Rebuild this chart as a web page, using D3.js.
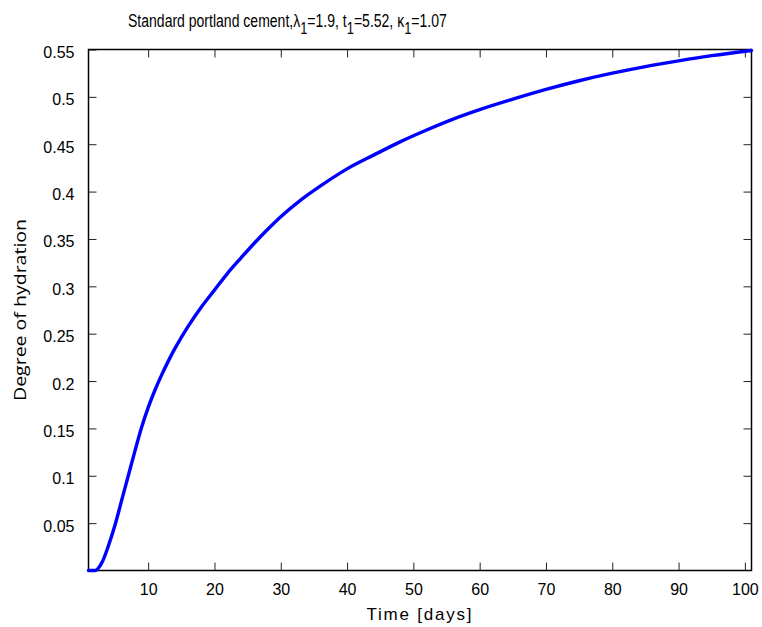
<!DOCTYPE html>
<html>
<head>
<meta charset="utf-8">
<script src="https://cdn.jsdelivr.net/npm/d3@7/dist/d3.min.js"></script>
<style>
  html, body { margin: 0; padding: 0; background: #fff; }
  svg { display: block; }
  .tick text { font-family: "Liberation Sans", Arial, sans-serif; font-size: 16px; fill: #000; }
</style>
</head>
<body>
<svg id="chart" width="762" height="627"></svg>
<script>
// ---- data ----
const timeDays = [1, 2, 3, 4, 5, 6, 7, 8, 9, 10, 11, 12, 13, 14, 15, 16, 18, 20, 22, 24, 26, 28, 30, 33, 36, 40, 44, 48, 52, 56, 60, 65, 70, 75, 80, 85, 90, 95, 101];
const hydration = [0, 0, 0.008, 0.026, 0.048, 0.074, 0.1, 0.126, 0.151, 0.172, 0.19, 0.206, 0.2205, 0.234, 0.246, 0.2575, 0.278, 0.296, 0.314, 0.330, 0.3455, 0.36, 0.3735, 0.391, 0.406, 0.424, 0.4385, 0.4525, 0.465, 0.4765, 0.4865, 0.4975, 0.5078, 0.517, 0.525, 0.532, 0.538, 0.5435, 0.549];
const xTicks = [10, 20, 30, 40, 50, 60, 70, 80, 90, 100];
const yTicks = [0.05, 0.1, 0.15, 0.2, 0.25, 0.3, 0.35, 0.4, 0.45, 0.5, 0.55];
const titleParts = [["Standard portland cement,λ", false], ["1", true], ["=1.9, t", false], ["1", true], ["=5.52, κ", false], ["1", true], ["=1.07", false]];
const xLabel = "Time [days]";
const yLabel = "Degree of hydration";

// ---- layout ----
const pLeft = 88.5, pRight = 751.5, pTop = 49.5, pBottom = 570.5;
const svg = d3.select("#chart");

const x = d3.scaleLinear().domain([1, 101]).range([pLeft, pRight]);
const y = d3.scaleLinear().domain([0, 0.55]).range([pBottom, pTop]);

const tickLen = 8;

const gx = svg.append("g").attr("transform", `translate(0,${pBottom})`)
  .call(d3.axisBottom(x).tickValues(xTicks).tickFormat(d3.format("d")).tickSizeInner(-tickLen).tickSizeOuter(0).tickPadding(13));
const gxt = svg.append("g").attr("transform", `translate(0,${pTop})`)
  .call(d3.axisTop(x).tickValues(xTicks).tickFormat("").tickSizeInner(-tickLen).tickSizeOuter(0));
const gy = svg.append("g").attr("transform", `translate(${pLeft},0)`)
  .call(d3.axisLeft(y).tickValues(yTicks).tickFormat(d => d3.format("")(d)).tickSizeInner(-tickLen).tickSizeOuter(0).tickPadding(14));
const gyr = svg.append("g").attr("transform", `translate(${pRight},0)`)
  .call(d3.axisRight(y).tickValues(yTicks).tickFormat("").tickSizeInner(-tickLen).tickSizeOuter(0));

[gx, gxt, gy, gyr].forEach(g => {
  g.select(".domain").remove();
  g.selectAll(".tick line").attr("stroke", "#222").attr("stroke-width", 1);
});
gy.selectAll(".tick text").attr("dy", "0.5em");

svg.append("rect").attr("x", pLeft).attr("y", pTop).attr("width", pRight - pLeft).attr("height", pBottom - pTop)
  .attr("fill", "none").attr("stroke", "#000").attr("stroke-width", 1.5);

const pts = timeDays.map((t, i) => [t, hydration[i]]);
svg.append("path").datum(pts)
  .attr("fill", "none").attr("stroke", "#0000ff").attr("stroke-width", 3.4)
  .attr("stroke-linejoin", "round").attr("stroke-linecap", "round")
  .attr("d", d3.line().x(d => x(d[0])).y(d => y(d[1])).curve(d3.curveMonotoneX));

// title: natural layout, then horizontally condensed to the reference width
const titleG = svg.append("g");
const title = titleG.append("text").attr("x", 0).attr("y", 0)
  .attr("font-family", "'Liberation Sans', Arial, sans-serif").attr("font-size", 18.5);
titleParts.forEach(([s, sub], i) => {
  title.append("tspan").attr("dy", sub ? 7 : (i > 0 ? -7 : 0))
    .attr("font-size", sub ? 17 : 18.5).text(s);
});
const natW = title.node().getComputedTextLength();
titleG.attr("transform", `translate(128,27) scale(${319 / natW},1)`);

svg.append("text").attr("x", 419).attr("y", 620).attr("text-anchor", "middle")
  .attr("font-family", "'Liberation Sans', Arial, sans-serif").attr("font-size", 17)
  .attr("textLength", 105).attr("lengthAdjust", "spacing").text(xLabel);

svg.append("text").attr("transform", `translate(26,${(pTop + pBottom) / 2}) rotate(-90)`)
  .attr("text-anchor", "middle")
  .attr("font-family", "'Open Sans', sans-serif").attr("font-size", 17)
  .attr("textLength", 182).attr("lengthAdjust", "spacingAndGlyphs").text(yLabel);
</script>
</body>
</html>
